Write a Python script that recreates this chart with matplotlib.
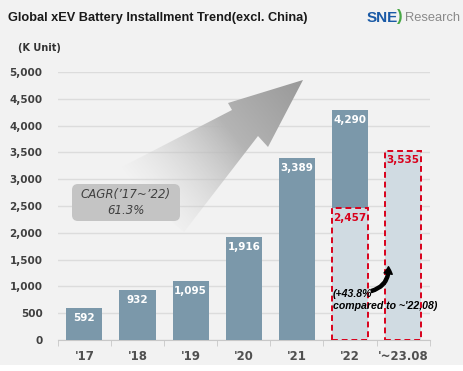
import matplotlib.pyplot as plt
import numpy as np
from matplotlib.patches import Polygon, FancyBboxPatch, Rectangle, FancyArrowPatch

# Data
years = ["'17", "'18", "'19", "'20", "'21", "'22", "'~23.08"]
full_year = [592, 932, 1095, 1916, 3389, 4290]
ytd_22 = 2457
ytd_23 = 3535
yticks = [0, 500, 1000, 1500, 2000, 2500, 3000, 3500, 4000, 4500, 5000]

bg = '#f2f2f2'
bar_c = '#7b98aa'
light_c = '#d0dbe2'
red = '#d9001b'

fig = plt.figure(figsize=(4.63, 3.71), dpi=100, facecolor=bg)
ax = fig.add_axes([0.125, 0.0836, 0.803, 0.722])
ax.set_facecolor(bg)

x = np.arange(len(years))
w = 0.68

# dark bars for full years
ax.bar(x[:5], full_year[:5], width=w, color=bar_c, zorder=3)
# '22: light ytd part + dark rest on top
ax.bar(x[5], ytd_22, width=w, color=light_c, zorder=3)
ax.bar(x[5], full_year[5] - ytd_22, bottom=ytd_22, width=w, color=bar_c, zorder=3)
ax.bar(x[6], ytd_23, width=w, color=light_c, zorder=3)

# red dashed boxes
for xi, v in [(x[5], ytd_22), (x[6], ytd_23)]:
    ax.add_patch(Rectangle((xi - w / 2, 0), w, v, fill=False, edgecolor=red,
                           linestyle=(0, (3, 2)), linewidth=1.4, zorder=4))

# value labels
for xi, v in zip(x[:6], full_year):
    ax.text(xi, v - 90, f'{v:,}', ha='center', va='top', color='white',
            fontsize=7.5, fontweight='bold', zorder=5)
for xi, v in [(x[5], ytd_22), (x[6], ytd_23)]:
    ax.text(xi, v - 90, f'{v:,}', ha='center', va='top', color=red,
            fontsize=7.5, fontweight='bold', zorder=5)

ax.set_xlim(-0.5, 6.5)
ax.set_ylim(0, 5000)
ax.set_yticks(yticks)
ax.set_yticklabels([f'{v:,}' for v in yticks], fontsize=7.5, fontweight='bold', color='#404040')
ax.set_xticks(x)
ax.set_xticklabels(years, fontsize=8.5, fontweight='bold', color='#505050')
ax.set_xticks(np.arange(-0.5, 7, 1), minor=True)
ax.tick_params(axis='x', which='major', length=0, pad=7)
ax.tick_params(axis='x', which='minor', length=4, color='#c8c8c8', direction='out')
ax.tick_params(axis='y', length=0, pad=11)
ax.grid(axis='y', color='#dcdcdc', linewidth=1, zorder=0)
for s in ['top', 'right', 'left']:
    ax.spines[s].set_visible(False)
ax.spines['bottom'].set_color('#c8c8c8')

# small curved arrow + annotation
ax.add_patch(FancyArrowPatch((5.35, 900), (5.72, 1420), connectionstyle='arc3,rad=0.45',
                             arrowstyle='simple,head_width=6,head_length=5,tail_width=2.2',
                             color='black', zorder=6))
ax.text(4.68, 960, "(+43.8%\ncompared to ~'22,08)", ha='left', va='top', fontsize=7.6,
        fontweight='bold', fontstyle='italic', color='black', zorder=6, linespacing=1.35,
        family='Liberation Sans')

# overlay in pixel coords for decorations
ov = fig.add_axes([0, 0, 1, 1], facecolor='none')
ov.set_xlim(0, 463)
ov.set_ylim(371, 0)
ov.axis('off')

# gradient arrow
pts = np.array([[112, 172], [232, 110], [228, 103], [303, 80], [268, 147],
                [258, 136], [184, 232]])
poly = Polygon(pts, closed=True, facecolor='none', edgecolor='none')
ov.add_patch(poly)
tail = np.array([148, 202.0])
tip = np.array([303, 80.0])
gx, gy = np.meshgrid(np.linspace(100, 310, 300), np.linspace(70, 240, 250))
d = tip - tail
t = ((gx - tail[0]) * d[0] + (gy - tail[1]) * d[1]) / (d @ d)
t = np.clip(t, 0, 1)
img = np.zeros(gx.shape + (4,))
shade = 0.84 - 0.24 * t
img[..., 0] = shade
img[..., 1] = shade
img[..., 2] = shade
img[..., 3] = np.clip(t * 1.8, 0, 1)
im = ov.imshow(img, extent=(100, 310, 240, 70), origin='upper', zorder=2)
im.set_clip_path(poly)

# CAGR box
ov.add_patch(FancyBboxPatch((72, 184), 108, 37, boxstyle='round,pad=0,rounding_size=6',
                            facecolor='#c4c4c4', edgecolor='none', zorder=3))
ov.text(126, 202.5, "CAGR(\u201917~\u201922)\n61.3%", ha='center', va='center', fontsize=8.5,
        fontstyle='italic', color='#404040', zorder=4, linespacing=1.25)

# title and unit
ov.text(8, 18, 'Global xEV Battery Installment Trend(excl. China)', ha='left', va='center',
        fontsize=9.2, fontweight='bold', color='#1a1a1a', family='Liberation Sans')
ov.text(18, 48, '(K Unit)', ha='left', va='center', fontsize=7, fontweight='bold', color='#333333')

# logo
ov.text(367, 18, 'SNE', ha='left', va='center', fontsize=11, fontweight='bold', color='#1a5aa6',
        family='Liberation Sans')
ov.text(397, 17, ')', ha='left', va='center', fontsize=12, fontweight='bold', color='#49a846',
        family='Liberation Sans')
ov.text(405, 18, 'Research', ha='left', va='center', fontsize=9.3, color='#8a8a8a',
        family='Liberation Sans')

# white strip at bottom
ov.add_patch(Rectangle((0, 365), 463, 6, facecolor='white', edgecolor='none', zorder=10))

fig.savefig('out.png', dpi=100, facecolor=bg)
